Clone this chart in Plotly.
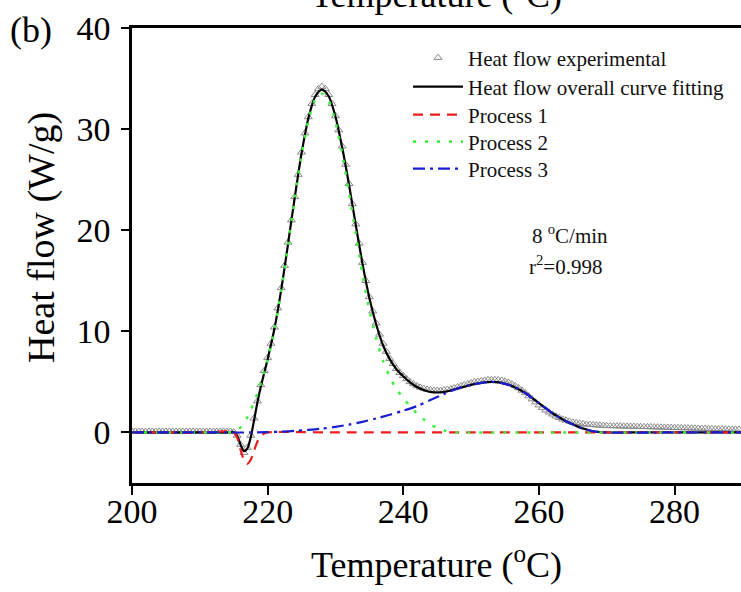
import plotly.graph_objects as go

# ---------------- data ----------------
exp_temp = [
    200.0, 200.5, 201.0, 201.5, 202.0, 202.5, 203.0, 203.5, 204.0, 204.5,
    205.0, 205.5, 206.0, 206.5, 207.0, 207.5, 208.0, 208.5, 209.0, 209.5,
    210.0, 210.5, 211.0, 211.5, 212.0, 212.5, 213.0, 213.5, 214.0, 214.5,
    215.0, 215.5, 216.0, 216.5, 217.0, 217.5, 218.0, 218.5, 219.0, 219.5,
    220.0, 220.5, 221.0, 221.5, 222.0, 222.5, 223.0, 223.5, 224.0, 224.5,
    225.0, 225.5, 226.0, 226.5, 227.0, 227.5, 228.0, 228.5, 229.0, 229.5,
    230.0, 230.5, 231.0, 231.5, 232.0, 232.5, 233.0, 233.5, 234.0, 234.5,
    235.0, 235.5, 236.0, 236.5, 237.0, 237.5, 238.0, 238.5, 239.0, 239.5,
    240.0, 240.5, 241.0, 241.5, 242.0, 242.5, 243.0, 243.5, 244.0, 244.5,
    245.0, 245.5, 246.0, 246.5, 247.0, 247.5, 248.0, 248.5, 249.0, 249.5,
    250.0, 250.5, 251.0, 251.5, 252.0, 252.5, 253.0, 253.5, 254.0, 254.5,
    255.0, 255.5, 256.0, 256.5, 257.0, 257.5, 258.0, 258.5, 259.0, 259.5,
    260.0, 260.5, 261.0, 261.5, 262.0, 262.5, 263.0, 263.5, 264.0, 264.5,
    265.0, 265.5, 266.0, 266.5, 267.0, 267.5, 268.0, 268.5, 269.0, 269.5,
    270.0, 270.5, 271.0, 271.5, 272.0, 272.5, 273.0, 273.5, 274.0, 274.5,
    275.0, 275.5, 276.0, 276.5, 277.0, 277.5, 278.0, 278.5, 279.0, 279.5,
    280.0, 280.5, 281.0, 281.5, 282.0, 282.5, 283.0, 283.5, 284.0, 284.5,
    285.0, 285.5, 286.0, 286.5, 287.0, 287.5, 288.0, 288.5, 289.0, 289.5,
]
exp_heat = [
    0.1, 0.1, 0.1, 0.1, 0.1, 0.1, 0.1, 0.1, 0.1, 0.1,
    0.1, 0.1, 0.1, 0.1, 0.1, 0.1, 0.1, 0.1, 0.1, 0.1,
    0.1, 0.1, 0.1, 0.1, 0.1, 0.1, 0.1, 0.1, 0.1, 0.1,
    0.05, -0.3, -1.2, -2.0, -1.5, -0.3, 1.4, 3.1, 4.7, 6.1,
    7.4, 8.8, 10.4, 12.3, 14.3, 16.5, 18.8, 21.0, 23.3, 25.5,
    27.7, 29.6, 31.2, 32.5, 33.4, 34.0, 34.2, 34.0, 33.4, 32.5,
    31.3, 29.9, 28.3, 26.5, 24.6, 22.6, 20.6, 18.7, 16.8, 15.0,
    13.4, 12.0, 10.8, 9.7, 8.8, 8.0, 7.3, 6.8, 6.3, 5.9,
    5.6, 5.3, 5.0, 4.8, 4.6, 4.45, 4.35, 4.25, 4.2, 4.15,
    4.15, 4.15, 4.2, 4.25, 4.3, 4.4, 4.5, 4.6, 4.7, 4.8,
    4.9, 5.0, 5.05, 5.1, 5.15, 5.2, 5.2, 5.2, 5.2, 5.15,
    5.05, 4.95, 4.8, 4.6, 4.4, 4.15, 3.9, 3.6, 3.3, 3.0,
    2.7, 2.45, 2.2, 2.0, 1.8, 1.6, 1.45, 1.3, 1.2, 1.1,
    1.0, 0.95, 0.9, 0.85, 0.8, 0.78, 0.75, 0.72, 0.7, 0.68,
    0.66, 0.65, 0.64, 0.63, 0.62, 0.61, 0.6, 0.6, 0.59, 0.58,
    0.57, 0.56, 0.55, 0.54, 0.53, 0.52, 0.51, 0.5, 0.49, 0.48,
    0.47, 0.46, 0.45, 0.44, 0.43, 0.42, 0.41, 0.4, 0.39, 0.38,
    0.37, 0.36, 0.35, 0.34, 0.33, 0.32, 0.31, 0.3, 0.3, 0.3,
]

fit_temp = [200, 205, 210, 214, 215, 215.5, 216, 216.5, 217, 217.5, 218, 218.5,
            219, 219.5, 220, 221, 222, 223, 224, 225, 226, 227, 228, 229, 230,
            231, 232, 233, 234, 235, 236, 237, 238, 239, 240, 241, 242, 243,
            244, 245, 246, 247, 248, 249, 250, 251, 252, 253, 254, 255, 256,
            257, 258, 259, 260, 261, 262, 263, 264, 265, 266, 267, 268, 269,
            270, 275, 280, 285, 290]
fit_heat = [0, 0, 0, 0, 0.05, -0.3, -1.2, -1.85, -1.6, -0.5, 1.2, 3.0,
            4.55, 5.9, 7.25, 10.25, 14.1, 18.6, 23.25, 27.6, 31.05, 33.2, 33.9,
            33.25, 31.25, 28.15, 24.5, 20.5, 16.65, 13.3, 10.7, 8.65, 7.25,
            6.25, 5.55, 4.95, 4.5, 4.2, 4.0, 3.95, 4.0, 4.15, 4.35, 4.52, 4.7,
            4.85, 4.95, 5.0, 4.95, 4.8, 4.6, 4.28, 3.9, 3.4, 2.9, 2.4, 1.9,
            1.5, 1.1, 0.8, 0.5, 0.3, 0.12, 0.04, 0, 0, 0, 0, 0]

p1_temp = [200, 210, 215, 215.5, 216, 216.5, 217, 217.5, 218, 218.5, 219,
           219.5, 220, 230, 250, 270, 290]
p1_heat = [0, 0, 0, -0.5, -1.7, -2.7, -3.1, -2.7, -1.8, -0.9, -0.35,
           -0.1, 0, 0, 0, 0, 0]

p2_temp = [200, 210, 214, 215, 215.5, 216, 216.5, 217, 217.5, 218, 218.5,
           219, 219.5, 220, 221, 222, 223, 224, 225, 226, 227, 228, 229,
           230, 231, 232, 233, 234, 235, 236, 237, 238, 239, 240, 241, 242,
           243, 244, 245, 246, 247, 248, 250, 260, 270, 280, 290]
p2_heat = [0, 0, 0, 0.1, 0.25, 0.5, 0.9, 1.5, 2.2, 3.0, 3.9,
           4.9, 6.0, 7.2, 10.2, 14.0, 18.5, 23.1, 27.4, 30.8, 32.9, 33.5, 32.8,
           30.7, 27.5, 23.7, 19.6, 15.6, 12.1, 9.3, 7.1, 5.5, 4.3, 3.4, 2.6, 1.9,
           1.3, 0.8, 0.45, 0.2, 0.05, 0, 0, 0, 0, 0, 0]

p3_temp = [200, 210, 218, 220, 222, 224, 226, 228, 230, 232, 234, 236, 238,
           240, 242, 244, 246, 248, 250, 252, 253, 254, 256, 258, 260, 262,
           264, 266, 268, 270, 280, 290]
p3_heat = [0, 0, 0, 0.03, 0.08, 0.15, 0.25, 0.38, 0.55, 0.78, 1.05, 1.38, 1.75,
           2.15, 2.6, 3.2, 3.8, 4.35, 4.7, 4.95, 5.0, 4.95, 4.6, 3.9, 2.9, 1.9,
           1.1, 0.5, 0.12, 0, 0, 0]

series_names = ["Heat flow experimental", "Heat flow overall curve fitting",
                "Process 1", "Process 2", "Process 3"]
x_ticks = [200, 220, 240, 260, 280]
y_ticks = [0, 10, 20, 30, 40]

SERIF = "Liberation Serif, Times New Roman, serif"

# plot area in page pixels: left 132, right 741, top 28, bottom 483
PL, PR, PT, PB = 132, 741, 28, 483


def px_x(p):
    return (p - PL) / (PR - PL)


def px_y(p):
    return 1 - (p - PT) / (PB - PT)


fig = go.Figure()
fig.add_trace(go.Scatter(
    x=exp_temp, y=exp_heat, mode="markers", name=series_names[0], legend="legend",
    marker=dict(symbol="triangle-up-open", size=7, color="#8a8a8a",
                line=dict(width=1, color="#8a8a8a")),
))
fig.add_trace(go.Scatter(
    x=fit_temp, y=fit_heat, mode="lines", name=series_names[1], legend="legend2",
    line=dict(color="black", width=2.2, shape="spline", smoothing=0.8),
))
fig.add_trace(go.Scatter(
    x=p1_temp, y=p1_heat, mode="lines", name=series_names[2], legend="legend3",
    line=dict(color="#ee1c1c", width=2.2, dash="10px,7px", shape="spline", smoothing=0.8),
))
fig.add_trace(go.Scatter(
    x=p2_temp, y=p2_heat, mode="lines", name=series_names[3], legend="legend4",
    line=dict(color="#3ef03e", width=2.6, dash="3px,9px", shape="spline", smoothing=0.8),
))
fig.add_trace(go.Scatter(
    x=p3_temp, y=p3_heat, mode="lines", name=series_names[4], legend="legend5",
    line=dict(color="#1c1cd0", width=2.2, dash="12px,5px,3px,5px", shape="spline", smoothing=0.8),
))

legend_rows = [58, 87, 115, 142, 169]


def make_legend(row):
    return dict(
        x=px_x(408), xanchor="left", y=px_y(row), yanchor="middle",
        font=dict(family=SERIF, size=21, color="#111"),
        itemwidth=50, bgcolor="rgba(0,0,0,0)",
    )


fig.update_layout(
    width=741, height=592,
    margin=dict(l=PL, r=0, t=PT, b=592 - PB),
    paper_bgcolor="white", plot_bgcolor="white",
    font=dict(family=SERIF, color="black"),
    showlegend=True,
    legend=make_legend(legend_rows[0]),
    legend2=make_legend(legend_rows[1]),
    legend3=make_legend(legend_rows[2]),
    legend4=make_legend(legend_rows[3]),
    legend5=make_legend(legend_rows[4]),
    xaxis=dict(
        range=[200, 289.8], tickmode="array", tickvals=x_ticks,
        ticks="outside", ticklen=9, tickwidth=2, tickcolor="black",
        showline=True, linewidth=2.5, linecolor="black", mirror=True,
        showgrid=False, zeroline=False,
        tickfont=dict(family=SERIF, size=34, color="black"),
        ticklabelstandoff=-13,
        title=dict(text="Temperature (<sup>o</sup>C)",
                   font=dict(family=SERIF, size=36, color="black"), standoff=24),
    ),
    yaxis=dict(
        range=[-5, 40], tickmode="array", tickvals=y_ticks,
        ticks="outside", ticklen=8, tickwidth=2, tickcolor="black",
        showline=True, linewidth=2.5, linecolor="black", mirror=False,
        showgrid=False, zeroline=False,
        tickfont=dict(family=SERIF, size=34, color="black"),
        ticklabelstandoff=4,
    ),
    annotations=[
        dict(text="Heat flow (W/g)", textangle=-90, xref="paper", yref="paper",
             x=px_x(42), y=px_y(237), xanchor="center", yanchor="middle",
             showarrow=False, font=dict(family=SERIF, size=38, color="black")),
        dict(text="(b)", xref="paper", yref="paper", x=px_x(31), y=px_y(30),
             xanchor="center", yanchor="middle", showarrow=False,
             font=dict(family=SERIF, size=36, color="black")),
        dict(text="Temperature (<sup>o</sup>C)", xref="paper", yref="paper",
             x=0.5, y=px_y(-8), xanchor="center", yanchor="middle", showarrow=False,
             font=dict(family=SERIF, size=36, color="black")),
        dict(text="8 <sup>o</sup>C/min", xref="paper", yref="paper",
             x=px_x(530), y=px_y(235), xanchor="left", yanchor="middle", showarrow=False,
             font=dict(family=SERIF, size=21, color="#111")),
        dict(text="r<sup>2</sup>=0.998", xref="paper", yref="paper",
             x=px_x(527), y=px_y(265), xanchor="left", yanchor="middle", showarrow=False,
             font=dict(family=SERIF, size=21, color="#111")),
    ],
)

fig.write_html("out.html", config={"displayModeBar": False},
               post_script="document.body.style.margin='0px';")
